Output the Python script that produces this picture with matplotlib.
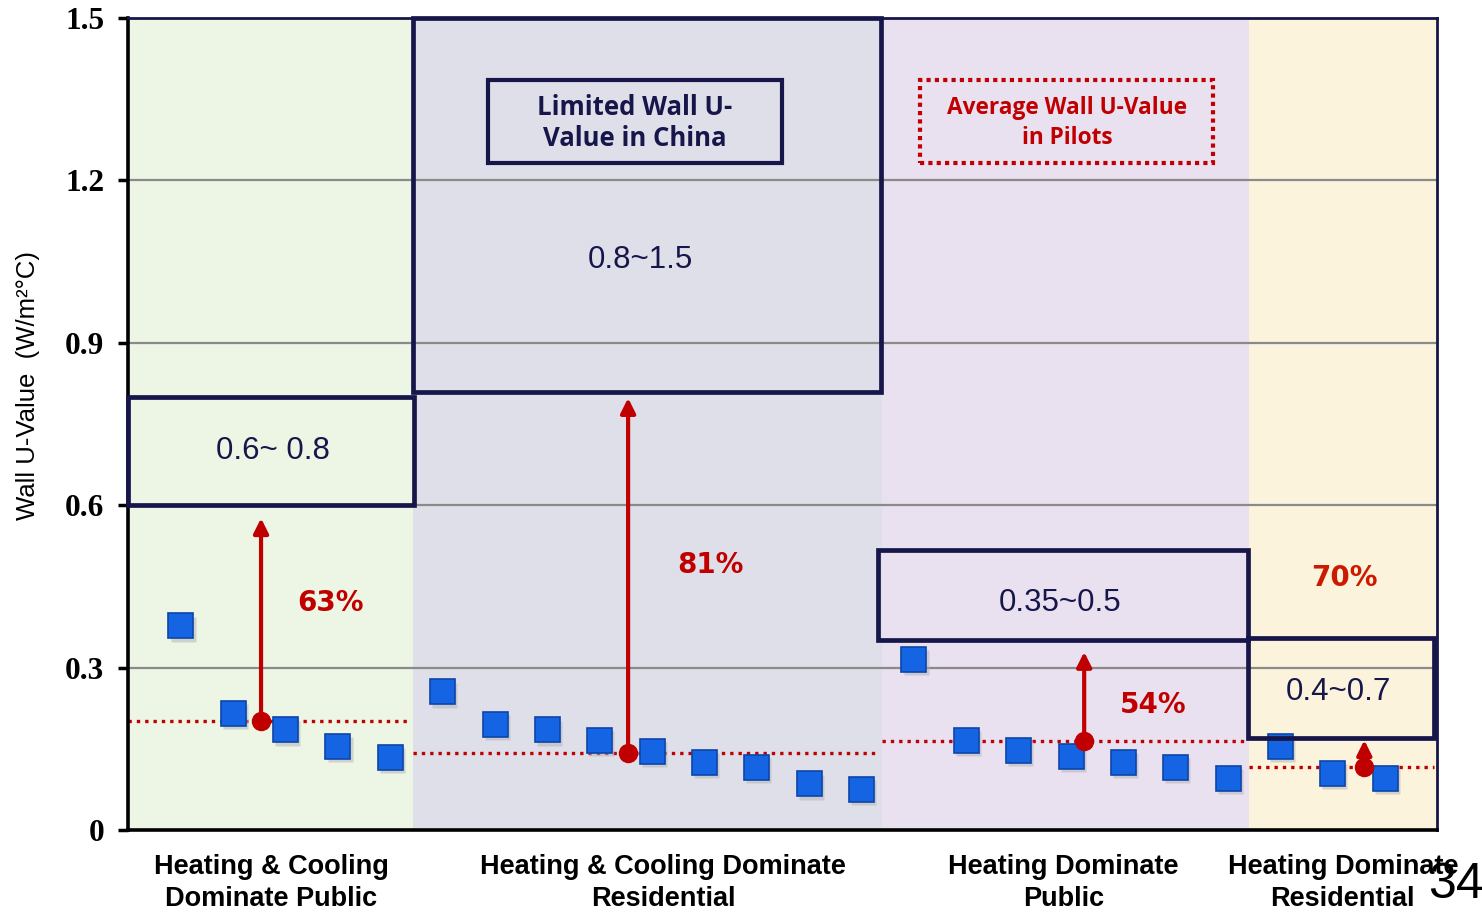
import numpy as np
import matplotlib
matplotlib.use('Agg')
import matplotlib.pyplot as plt
from matplotlib.patches import Rectangle

# wall U-values of the pilot buildings, per climate/type group
group_names = ['Heating & Cooling\nDominate Public',
               'Heating & Cooling Dominate\nResidential',
               'Heating Dominate\nPublic',
               'Heating Dominate\nResidential']
g1 = [0.378, 0.216, 0.186, 0.156, 0.135]
g2 = [0.256, 0.196, 0.186, 0.166, 0.146, 0.126, 0.116, 0.086, 0.076]
g3 = [0.316, 0.166, 0.148, 0.137, 0.126, 0.116, 0.096]
g4 = [0.156, 0.106, 0.096]

# average of pilots and limited value in China (range)
avg_vals = [0.201, 0.142, 0.165, 0.116]
limit_low = [0.6, 0.81, 0.351, 0.17]
limit_high = [0.8, 1.5, 0.517, 0.355]
limit_labels = ['0.6~ 0.8', '0.8~1.5', '0.35~0.5', '0.4~0.7']
reductions = ['63%', '81%', '54%', '70%']
arrow_tops = [0.576, 0.798, 0.329, 0.166]

yticks = [0, 0.3, 0.6, 0.9, 1.2, 1.5]
yticklabels = ['0', '0.3', '0.6', '0.9', '1.2', '1.5']

bg_colors = ['#edf5e5', '#dfdfe9', '#e9e1ef', '#fcf3dc']
edges = [-1, 4.45, 13.4, 20.4, 24]
navy = '#16164a'
red = '#c00000'

fig = plt.figure(figsize=(14.82, 9.14), dpi=100)
ax = fig.add_axes([0.0864, 0.0919, 0.8833, 0.8884])
ax.set_xlim(-1, 24)
ax.set_ylim(0, 1.5)

# coloured group backgrounds
for i in range(4):
    ax.axvspan(edges[i], edges[i + 1], color=bg_colors[i], zorder=0, lw=0)

for yv in yticks[1:-1]:
    ax.axhline(yv, color='#8a8a8a', lw=1.6, zorder=1)

groups = [g1, g2, g3, g4]
x = np.arange(sum(len(g) for g in groups))
vals = np.concatenate(groups)

# average dotted lines
for i in range(4):
    ax.plot([edges[i], edges[i + 1] - 0.05], [avg_vals[i]] * 2, color=red,
            lw=2.4, ls=(0, (1, 1.5)), zorder=2)

# shadow + squares
ax.plot(x + 0.04, vals - 0.006, 's', ms=18, color='#b0b0b8', alpha=0.5,
        mec='none', zorder=2.5)
ax.plot(x, vals, 's', ms=18, mfc='#1464e4', mec='#0c45a8', mew=1.2,
        ls='none', zorder=3)

# limit boxes
box_x = [(-1, 4.46), (4.44, 13.38), (13.32, 20.39), (20.39, 23.94)]
for i in range(4):
    x0, x1 = box_x[i]
    ax.add_patch(Rectangle((x0, limit_low[i]), x1 - x0,
                           limit_high[i] - limit_low[i], fill=False,
                           ec=navy, lw=3.4, zorder=4, clip_on=False))
label_pos = [(1.77, 0.70), (8.78, 1.053), (16.8, 0.419), (22.11, 0.255)]
for i in range(4):
    ax.text(label_pos[i][0], label_pos[i][1], limit_labels[i], ha='center',
            va='center', fontsize=22.5, color=navy, family='Liberation Sans',
            zorder=6)

# reduction arrows
arrow_x = [1.54, 8.55, 17.26, 22.61]
for i in range(4):
    ax.annotate('', xy=(arrow_x[i], arrow_tops[i]),
                xytext=(arrow_x[i], avg_vals[i]),
                arrowprops=dict(arrowstyle='-|>', color=red, lw=3,
                                mutation_scale=22, shrinkA=0, shrinkB=0),
                zorder=5)
    ax.plot(arrow_x[i], avg_vals[i], 'o', ms=13, color=red, zorder=5)

pct_pos = [(2.86, 0.419), (10.12, 0.49), (18.58, 0.231), (22.22, 0.466)]
pct_cols = [red, red, red, '#cc1a00']
for i in range(4):
    ax.text(pct_pos[i][0], pct_pos[i][1], reductions[i], ha='center',
            va='center', fontsize=20, fontweight='bold', color=pct_cols[i],
            family='DejaVu Sans', zorder=6)

# legend-like boxes
ax.add_patch(Rectangle((5.875, 1.232), 11.49 - 5.875, 1.386 - 1.232,
                       fill=False, ec=navy, lw=3, zorder=4))
ax.text(8.68, 1.306, 'Limited Wall U-\nValue in China', ha='center',
        va='center', fontsize=18.5, fontweight='bold', color=navy,
        family='Open Sans', linespacing=1.2, zorder=6)
ax.add_patch(Rectangle((14.13, 1.232), 19.72 - 14.13, 1.386 - 1.232,
                       fill=False, ec=red, lw=3, ls=(0, (1, 1)), zorder=4))
ax.text(16.93, 1.306, 'Average Wall U-Value\nin Pilots', ha='center',
        va='center', fontsize=16.3, fontweight='bold', color=red,
        family='Open Sans', linespacing=1.35, zorder=6)

# axes styling
ax.set_xticks([])
ax.set_yticks(yticks)
ax.set_yticklabels(yticklabels, family='Liberation Serif', fontweight='bold',
                   fontsize=22.5)
ax.tick_params(axis='y', length=7, width=2.5, pad=10)
for s in ['left', 'bottom']:
    ax.spines[s].set_linewidth(2.6)
    ax.spines[s].set_color('black')
for s in ['top', 'right']:
    ax.spines[s].set_linewidth(2)
    ax.spines[s].set_color(navy)

cat_x = [1.73, 9.22, 16.86, 22.2]
for i in range(4):
    ax.text(cat_x[i], -0.03, group_names[i], transform=ax.get_xaxis_transform(),
            ha='center', va='top', fontsize=19.5, fontweight='bold',
            family='Liberation Sans', linespacing=1.3)

fig.text(28 / 1482, 1 - 385 / 914, 'Wall U-Value  (W/m²°C)', rotation=90,
         ha='center', va='center', fontsize=18.5,
         family='Liberation Sans')
fig.text(1456 / 1482, 1 - 885 / 914, '34', ha='center', va='center',
         fontsize=36, family='Liberation Sans')

fig.savefig('out.png', dpi=100)
